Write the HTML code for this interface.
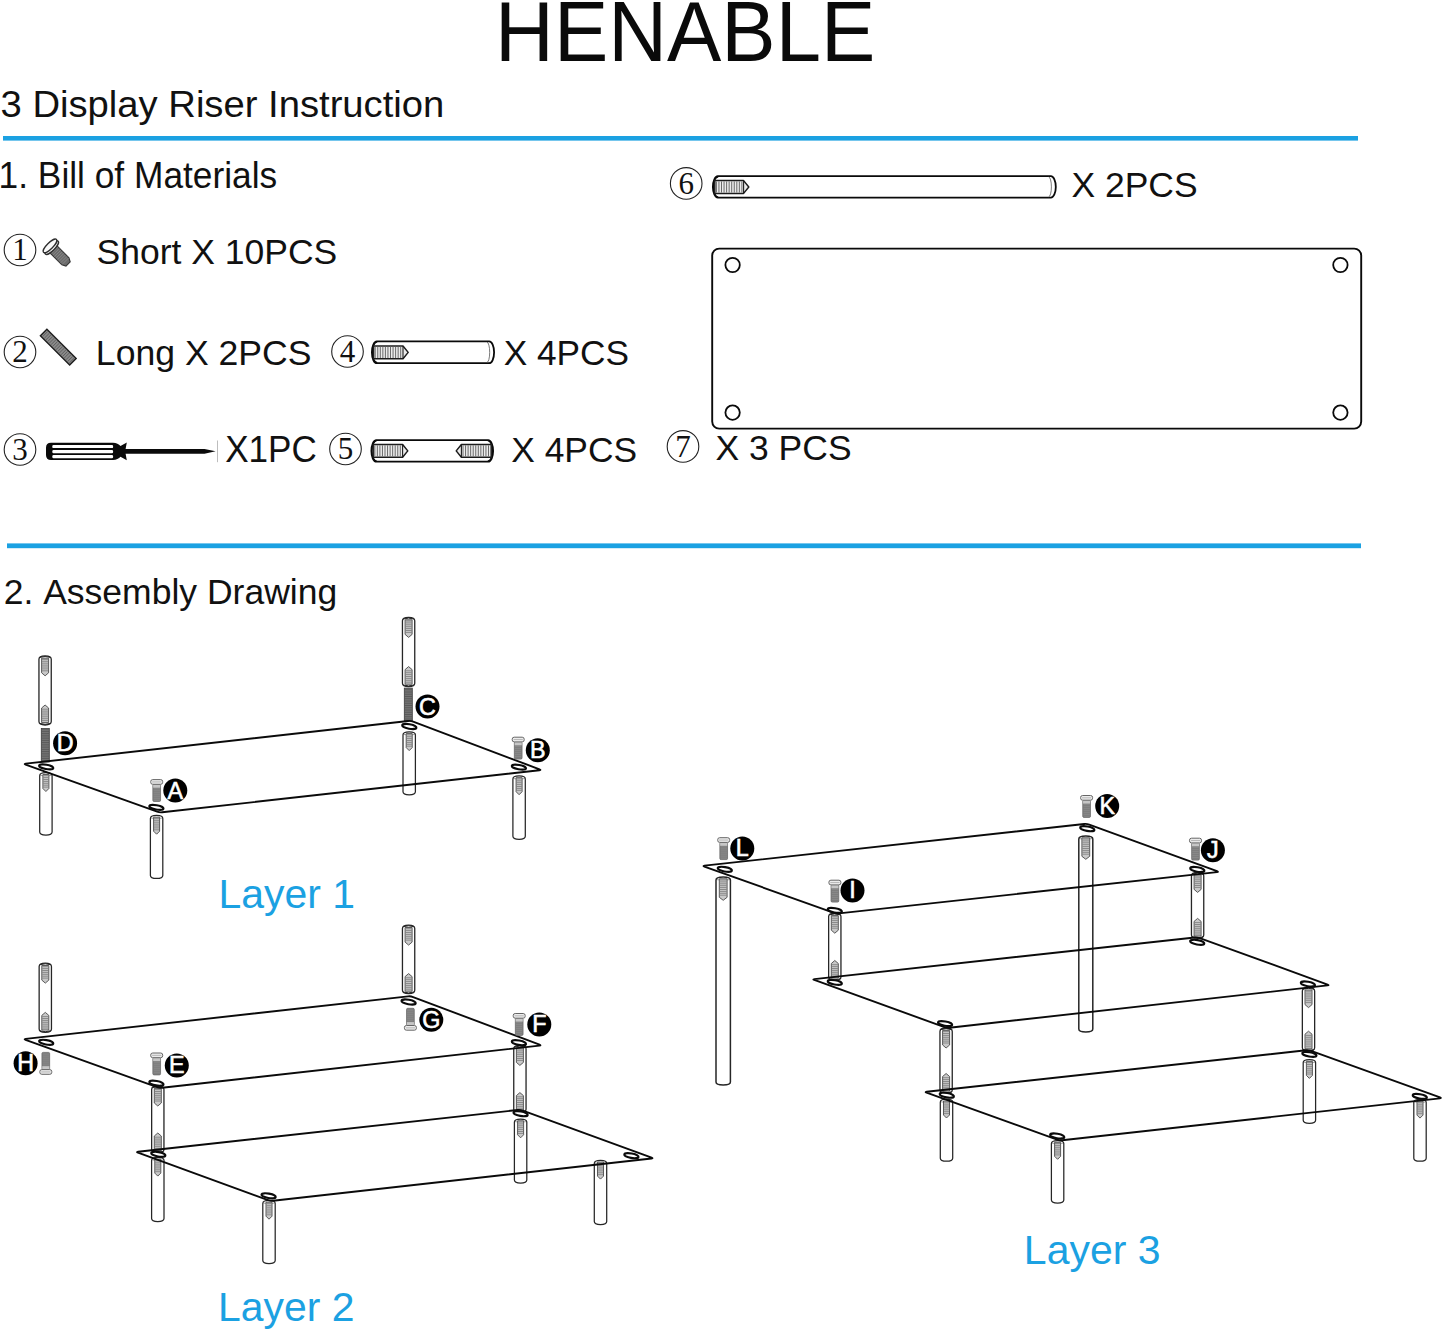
<!DOCTYPE html>
<html><head><meta charset="utf-8"><title>HENABLE 3 Display Riser Instruction</title>
<style>
html,body{margin:0;padding:0;background:#fff;}
body{width:1445px;height:1333px;overflow:hidden;font-family:"Liberation Sans",sans-serif;}
svg{display:block;font-kerning:none;}
text{font-kerning:none;}
</style></head><body>
<svg width="1445" height="1333" viewBox="0 0 1445 1333">
<rect width="1445" height="1333" fill="#fff"/>
<rect x="3" y="136" width="1355" height="4.6" fill="#1ba1e2"/>
<rect x="7" y="543.4" width="1354" height="4.8" fill="#1ba1e2"/>
<text transform="translate(495.12,60.50) scale(1,1.039)" font-family="Liberation Sans" font-weight="normal" font-size="81.44" fill="#0a0a0a">HENABLE</text>
<text transform="translate(0.54,116.50) scale(1,0.985)" font-family="Liberation Sans" font-weight="normal" font-size="38.22" fill="#111">3 Display Riser Instruction</text>
<text transform="translate(-1.39,188.00) scale(1,1.029)" font-family="Liberation Sans" font-weight="normal" font-size="35.31" fill="#111">1. Bill of Materials</text>
<text transform="translate(96.59,263.75) scale(1,0.993)" font-family="Liberation Sans" font-weight="normal" font-size="35.50" fill="#111">Short X 10PCS</text>
<text transform="translate(95.83,364.50) scale(1,0.969)" font-family="Liberation Sans" font-weight="normal" font-size="35.61" fill="#111">Long X 2PCS</text>
<text transform="translate(503.71,364.50) scale(1,1.010)" font-family="Liberation Sans" font-weight="normal" font-size="35.26" fill="#111">X 4PCS</text>
<text transform="translate(225.21,462.00) scale(1,1.040)" font-family="Liberation Sans" font-weight="normal" font-size="35.07" fill="#111">X1PC</text>
<text transform="translate(511.20,461.75) scale(1,0.996)" font-family="Liberation Sans" font-weight="normal" font-size="35.40" fill="#111">X 4PCS</text>
<text transform="translate(1071.45,196.75) scale(1,1.014)" font-family="Liberation Sans" font-weight="normal" font-size="35.47" fill="#111">X 2PCS</text>
<text transform="translate(715.45,460.00) scale(1,1.003)" font-family="Liberation Sans" font-weight="normal" font-size="35.51" fill="#111">X 3 PCS</text>
<text transform="translate(3.71,603.75) scale(1,0.992)" font-family="Liberation Sans" font-weight="normal" font-size="35.52" fill="#111">2. Assembly Drawing</text>
<text transform="translate(218.44,907.90) scale(1,1.015)" font-family="Liberation Sans" font-weight="normal" font-size="40.95" fill="#1ba1e2">Layer 1</text>
<text transform="translate(218.04,1320.80) scale(1,0.998)" font-family="Liberation Sans" font-weight="normal" font-size="40.93" fill="#1ba1e2">Layer 2</text>
<text transform="translate(1023.84,1264.40) scale(1,1.003)" font-family="Liberation Sans" font-weight="normal" font-size="41.00" fill="#1ba1e2">Layer 3</text>
<circle cx="20" cy="250" r="15.8" fill="none" stroke="#222" stroke-width="1.1"/>
<text x="20" y="260.2" text-anchor="middle" font-family="Liberation Serif" font-size="31" fill="#111">1</text>
<circle cx="20" cy="352" r="15.8" fill="none" stroke="#222" stroke-width="1.1"/>
<text x="20" y="362.2" text-anchor="middle" font-family="Liberation Serif" font-size="31" fill="#111">2</text>
<circle cx="20" cy="449.5" r="15.8" fill="none" stroke="#222" stroke-width="1.1"/>
<text x="20" y="459.7" text-anchor="middle" font-family="Liberation Serif" font-size="31" fill="#111">3</text>
<circle cx="347.5" cy="351.5" r="15.8" fill="none" stroke="#222" stroke-width="1.1"/>
<text x="347.5" y="361.7" text-anchor="middle" font-family="Liberation Serif" font-size="31" fill="#111">4</text>
<circle cx="345.5" cy="449" r="15.8" fill="none" stroke="#222" stroke-width="1.1"/>
<text x="345.5" y="459.2" text-anchor="middle" font-family="Liberation Serif" font-size="31" fill="#111">5</text>
<circle cx="686.2" cy="183.4" r="15.8" fill="none" stroke="#222" stroke-width="1.1"/>
<text x="686.2" y="193.6" text-anchor="middle" font-family="Liberation Serif" font-size="31" fill="#111">6</text>
<circle cx="683" cy="446.4" r="15.8" fill="none" stroke="#222" stroke-width="1.1"/>
<text x="683" y="456.59999999999997" text-anchor="middle" font-family="Liberation Serif" font-size="31" fill="#111">7</text>
<g transform="translate(50.2,246.1) rotate(45)">
<path d="M3,-5 H21.5 L25.3,-3 V3 L21.5,5 H3 Z" fill="#6c6c6c" stroke="#333" stroke-width="1.1"/>
<path d="M6,-4.5 V4.5 M8.2,-4.5 V4.5 M10.4,-4.5 V4.5 M12.6,-4.5 V4.5 M14.8,-4.5 V4.5 M17,-4.5 V4.5 M19.2,-4.5 V4.5 M21.4,-4.5 V4.5" stroke="#8f8f8f" stroke-width="0.7"/>
<ellipse cx="2.2" cy="0" rx="3" ry="9" fill="#fafafa" stroke="#2e2e2e" stroke-width="1.35"/>
<ellipse cx="-0.3" cy="0" rx="3" ry="9.2" fill="#fafafa" stroke="#2e2e2e" stroke-width="1.35"/>
</g>
<g transform="translate(46.9,328.6) rotate(45)">
<rect x="0.4" y="0.4" width="41.4" height="9.2" fill="#8a8a8a" stroke="#1e1e1e" stroke-width="1.4"/>
<path d="M2.6,1.4 V8.6 M5.0,1.4 V8.6 M7.3,1.4 V8.6 M9.7,1.4 V8.6 M12.0,1.4 V8.6 M14.3,1.4 V8.6 M16.7,1.4 V8.6 M19.1,1.4 V8.6 M21.4,1.4 V8.6 M23.8,1.4 V8.6 M26.1,1.4 V8.6 M28.5,1.4 V8.6 M30.8,1.4 V8.6 M33.1,1.4 V8.6 M35.5,1.4 V8.6 M37.9,1.4 V8.6 M40.2,1.4 V8.6" stroke="#555" stroke-width="0.8"/>
</g>
<path d="M51,442.8 H113 Q118,443 120.5,446 L126.8,442.6 L125.6,448.9 H204.5 L215.6,451.3 L204.5,453.7 H125.6 L126.8,460.2 L120.5,456.8 Q118,459.8 113,460 H51 Q46,460 46,455 V447.8 Q46,442.8 51,442.8 Z" fill="#0a0a0a"/>
<rect x="52.3" y="444.9" width="60.8" height="3.20" rx="1.2" fill="#fff"/>
<rect x="52.3" y="450.0" width="60.8" height="3.30" rx="1.2" fill="#fff"/>
<rect x="52.3" y="455.1" width="60.8" height="3.10" rx="1.2" fill="#fff"/>
<path d="M217.5,440.5 V462.2" stroke="#bdbdbd" stroke-width="1"/>
<path d="M376.80,341.40 H489.20 A4.90,10.90 0 0 1 489.20,363.20 H376.80 A4.90,10.90 0 0 1 376.80,341.40 Z" fill="#fff" stroke="#0a0a0a" stroke-width="1.8"/>
<path d="M377.30,342.00 A4.90,10.30 0 0 0 377.30,362.60" fill="none" stroke="#0a0a0a" stroke-width="1.2"/>
<path d="M487.00,342.20 A2.70,10.10 0 0 1 487.00,362.40" fill="none" stroke="#555" stroke-width="0.8"/>
<path d="M373.60,346.00 L403.00,346.00 L408.20,352.40 L403.00,358.80 L373.60,358.80 Z" fill="#ececec" stroke="#1c1c1c" stroke-width="1.5" stroke-linejoin="round"/>
<path d="M375.20,346.80 V358.00 M377.75,346.80 V358.00 M380.30,346.80 V358.00 M382.85,346.80 V358.00 M385.40,346.80 V358.00 M387.95,346.80 V358.00 M390.50,346.80 V358.00 M393.05,346.80 V358.00 M395.60,346.80 V358.00 M398.15,346.80 V358.00 M400.70,346.80 V358.00" stroke="#6a6a6a" stroke-width="1.0" fill="none"/>
<path d="M403.00,346.00 V358.80" stroke="#1c1c1c" stroke-width="1.1"/>
<path d="M376.30,440.10 H488.20 A4.90,10.80 0 0 1 488.20,461.70 H376.30 A4.90,10.80 0 0 1 376.30,440.10 Z" fill="#fff" stroke="#0a0a0a" stroke-width="1.8"/>
<path d="M376.80,440.70 A4.90,10.20 0 0 0 376.80,461.10" fill="none" stroke="#0a0a0a" stroke-width="1.2"/>
<path d="M487.70,440.70 A4.90,10.20 0 0 1 487.70,461.10" fill="none" stroke="#0a0a0a" stroke-width="1.2"/>
<path d="M373.20,444.50 L402.60,444.50 L407.80,450.90 L402.60,457.30 L373.20,457.30 Z" fill="#ececec" stroke="#1c1c1c" stroke-width="1.5" stroke-linejoin="round"/>
<path d="M374.80,445.30 V456.50 M377.35,445.30 V456.50 M379.90,445.30 V456.50 M382.45,445.30 V456.50 M385.00,445.30 V456.50 M387.55,445.30 V456.50 M390.10,445.30 V456.50 M392.65,445.30 V456.50 M395.20,445.30 V456.50 M397.75,445.30 V456.50 M400.30,445.30 V456.50" stroke="#6a6a6a" stroke-width="1.0" fill="none"/>
<path d="M402.60,444.50 V457.30" stroke="#1c1c1c" stroke-width="1.1"/>
<path d="M491.20,444.50 L461.40,444.50 L456.20,450.90 L461.40,457.30 L491.20,457.30 Z" fill="#ececec" stroke="#1c1c1c" stroke-width="1.5" stroke-linejoin="round"/>
<path d="M463.00,445.30 V456.50 M465.55,445.30 V456.50 M468.10,445.30 V456.50 M470.65,445.30 V456.50 M473.20,445.30 V456.50 M475.75,445.30 V456.50 M478.30,445.30 V456.50 M480.85,445.30 V456.50 M483.40,445.30 V456.50 M485.95,445.30 V456.50 M488.50,445.30 V456.50" stroke="#6a6a6a" stroke-width="1.0" fill="none"/>
<path d="M461.40,444.50 V457.30" stroke="#1c1c1c" stroke-width="1.1"/>
<path d="M717.80,176.20 H1050.90 A4.90,10.70 0 0 1 1050.90,197.60 H717.80 A4.90,10.70 0 0 1 717.80,176.20 Z" fill="#fff" stroke="#0a0a0a" stroke-width="1.8"/>
<path d="M718.30,176.80 A4.90,10.10 0 0 0 718.30,197.00" fill="none" stroke="#0a0a0a" stroke-width="1.2"/>
<path d="M1048.70,177.00 A2.70,9.90 0 0 1 1048.70,196.80" fill="none" stroke="#555" stroke-width="0.8"/>
<path d="M714.80,180.60 L743.60,180.60 L748.80,187.00 L743.60,193.40 L714.80,193.40 Z" fill="#ececec" stroke="#1c1c1c" stroke-width="1.5" stroke-linejoin="round"/>
<path d="M716.40,181.40 V192.60 M718.95,181.40 V192.60 M721.50,181.40 V192.60 M724.05,181.40 V192.60 M726.60,181.40 V192.60 M729.15,181.40 V192.60 M731.70,181.40 V192.60 M734.25,181.40 V192.60 M736.80,181.40 V192.60 M739.35,181.40 V192.60 M741.90,181.40 V192.60" stroke="#6a6a6a" stroke-width="1.0" fill="none"/>
<path d="M743.60,180.60 V193.40" stroke="#1c1c1c" stroke-width="1.1"/>
<rect x="712.2" y="248.6" width="649" height="180" rx="7" fill="none" stroke="#0a0a0a" stroke-width="1.9"/>
<circle cx="732.6" cy="265" r="7.2" fill="none" stroke="#0a0a0a" stroke-width="1.8"/>
<circle cx="1340.4" cy="265" r="7.2" fill="none" stroke="#0a0a0a" stroke-width="1.8"/>
<circle cx="732.6" cy="412.6" r="7.2" fill="none" stroke="#0a0a0a" stroke-width="1.8"/>
<circle cx="1340.4" cy="412.6" r="7.2" fill="none" stroke="#0a0a0a" stroke-width="1.8"/>
<path d="M38.95,659.20 C38.95,656.70 40.75,655.80 45.10,655.80 C49.45,655.80 51.25,656.70 51.25,659.20 V721.60 C51.25,724.10 49.45,725.00 45.10,725.00 C40.75,725.00 38.95,724.10 38.95,721.60 Z" fill="none" stroke="#262626" stroke-width="1.3"/>
<path d="M39.65,657.40 Q45.10,655.60 50.55,657.40 M39.65,723.40 Q45.10,725.20 50.55,723.40" fill="none" stroke="#262626" stroke-width="1.0"/>
<path d="M41.60,658.20 L48.60,658.20 L48.60,672.80 L45.10,675.80 L41.60,672.80 Z" fill="#c9c9c9" stroke="#4a4a4a" stroke-width="0.9"/>
<path d="M42.00,659.40 H48.20 M42.00,661.30 H48.20 M42.00,663.20 H48.20 M42.00,665.10 H48.20 M42.00,667.00 H48.20 M42.00,668.90 H48.20 M42.00,670.80 H48.20" stroke="#7a7a7a" stroke-width="0.8" fill="none"/>
<path d="M41.60,722.60 L48.60,722.60 L48.60,708.00 L45.10,705.00 L41.60,708.00 Z" fill="#c9c9c9" stroke="#4a4a4a" stroke-width="0.9"/>
<path d="M42.00,709.20 H48.20 M42.00,711.10 H48.20 M42.00,713.00 H48.20 M42.00,714.90 H48.20 M42.00,716.80 H48.20 M42.00,718.70 H48.20 M42.00,720.60 H48.20" stroke="#7a7a7a" stroke-width="0.8" fill="none"/>
<path d="M402.45,620.80 C402.45,618.30 404.25,617.40 408.60,617.40 C412.95,617.40 414.75,618.30 414.75,620.80 V683.20 C414.75,685.70 412.95,686.60 408.60,686.60 C404.25,686.60 402.45,685.70 402.45,683.20 Z" fill="none" stroke="#262626" stroke-width="1.3"/>
<path d="M403.15,619.00 Q408.60,617.20 414.05,619.00 M403.15,685.00 Q408.60,686.80 414.05,685.00" fill="none" stroke="#262626" stroke-width="1.0"/>
<path d="M405.10,619.80 L412.10,619.80 L412.10,634.40 L408.60,637.40 L405.10,634.40 Z" fill="#c9c9c9" stroke="#4a4a4a" stroke-width="0.9"/>
<path d="M405.50,621.00 H411.70 M405.50,622.90 H411.70 M405.50,624.80 H411.70 M405.50,626.70 H411.70 M405.50,628.60 H411.70 M405.50,630.50 H411.70 M405.50,632.40 H411.70" stroke="#7a7a7a" stroke-width="0.8" fill="none"/>
<path d="M405.10,684.20 L412.10,684.20 L412.10,669.60 L408.60,666.60 L405.10,669.60 Z" fill="#c9c9c9" stroke="#4a4a4a" stroke-width="0.9"/>
<path d="M405.50,670.80 H411.70 M405.50,672.70 H411.70 M405.50,674.60 H411.70 M405.50,676.50 H411.70 M405.50,678.40 H411.70 M405.50,680.30 H411.70 M405.50,682.20 H411.70" stroke="#7a7a7a" stroke-width="0.8" fill="none"/>
<rect x="41.30" y="728.60" width="8.00" height="33.40" fill="#7c7c7c" stroke="#3a3a3a" stroke-width="0.8"/>
<path d="M41.60,729.80 H49.00 M41.60,731.60 H49.00 M41.60,733.40 H49.00 M41.60,735.20 H49.00 M41.60,737.00 H49.00 M41.60,738.80 H49.00 M41.60,740.60 H49.00 M41.60,742.40 H49.00 M41.60,744.20 H49.00 M41.60,746.00 H49.00 M41.60,747.80 H49.00 M41.60,749.60 H49.00 M41.60,751.40 H49.00 M41.60,753.20 H49.00 M41.60,755.00 H49.00 M41.60,756.80 H49.00 M41.60,758.60 H49.00 M41.60,760.40 H49.00" stroke="#4a4a4a" stroke-width="0.7" fill="none"/>
<rect x="404.30" y="688.10" width="8.00" height="32.90" fill="#7c7c7c" stroke="#3a3a3a" stroke-width="0.8"/>
<path d="M404.60,689.30 H412.00 M404.60,691.10 H412.00 M404.60,692.90 H412.00 M404.60,694.70 H412.00 M404.60,696.50 H412.00 M404.60,698.30 H412.00 M404.60,700.10 H412.00 M404.60,701.90 H412.00 M404.60,703.70 H412.00 M404.60,705.50 H412.00 M404.60,707.30 H412.00 M404.60,709.10 H412.00 M404.60,710.90 H412.00 M404.60,712.70 H412.00 M404.60,714.50 H412.00 M404.60,716.30 H412.00 M404.60,718.10 H412.00 M404.60,719.90 H412.00" stroke="#4a4a4a" stroke-width="0.7" fill="none"/>
<path d="M39.70,775.70 C39.70,773.50 41.30,772.70 45.90,772.70 C50.50,772.70 52.10,773.50 52.10,775.70 V832.10 Q52.10,835.10 45.90,835.10 Q39.70,835.10 39.70,832.10 Z" fill="none" stroke="#262626" stroke-width="1.25"/>
<path d="M40.30,775.30 Q45.90,776.90 51.50,775.30" fill="none" stroke="#262626" stroke-width="0.6" opacity="0.7"/>
<path d="M42.90,774.50 L48.90,774.50 L48.90,788.50 L45.90,791.50 L42.90,788.50 Z" fill="#c9c9c9" stroke="#4a4a4a" stroke-width="0.9"/>
<path d="M43.30,775.70 H48.50 M43.30,777.60 H48.50 M43.30,779.50 H48.50 M43.30,781.40 H48.50 M43.30,783.30 H48.50 M43.30,785.20 H48.50 M43.30,787.10 H48.50" stroke="#7a7a7a" stroke-width="0.8" fill="none"/>
<path d="M150.40,818.40 C150.40,816.20 152.00,815.40 156.60,815.40 C161.20,815.40 162.80,816.20 162.80,818.40 V875.40 Q162.80,878.40 156.60,878.40 Q150.40,878.40 150.40,875.40 Z" fill="none" stroke="#262626" stroke-width="1.25"/>
<path d="M151.00,818.00 Q156.60,819.60 162.20,818.00" fill="none" stroke="#262626" stroke-width="0.6" opacity="0.7"/>
<path d="M153.60,817.20 L159.60,817.20 L159.60,831.20 L156.60,834.20 L153.60,831.20 Z" fill="#c9c9c9" stroke="#4a4a4a" stroke-width="0.9"/>
<path d="M154.00,818.40 H159.20 M154.00,820.30 H159.20 M154.00,822.20 H159.20 M154.00,824.10 H159.20 M154.00,826.00 H159.20 M154.00,827.90 H159.20 M154.00,829.80 H159.20" stroke="#7a7a7a" stroke-width="0.8" fill="none"/>
<path d="M403.00,734.80 C403.00,732.60 404.60,731.80 409.20,731.80 C413.80,731.80 415.40,732.60 415.40,734.80 V791.80 Q415.40,794.80 409.20,794.80 Q403.00,794.80 403.00,791.80 Z" fill="none" stroke="#262626" stroke-width="1.25"/>
<path d="M403.60,734.40 Q409.20,736.00 414.80,734.40" fill="none" stroke="#262626" stroke-width="0.6" opacity="0.7"/>
<path d="M406.20,733.60 L412.20,733.60 L412.20,747.60 L409.20,750.60 L406.20,747.60 Z" fill="#c9c9c9" stroke="#4a4a4a" stroke-width="0.9"/>
<path d="M406.60,734.80 H411.80 M406.60,736.70 H411.80 M406.60,738.60 H411.80 M406.60,740.50 H411.80 M406.60,742.40 H411.80 M406.60,744.30 H411.80 M406.60,746.20 H411.80" stroke="#7a7a7a" stroke-width="0.8" fill="none"/>
<path d="M512.90,778.90 C512.90,776.70 514.50,775.90 519.10,775.90 C523.70,775.90 525.30,776.70 525.30,778.90 V836.30 Q525.30,839.30 519.10,839.30 Q512.90,839.30 512.90,836.30 Z" fill="none" stroke="#262626" stroke-width="1.25"/>
<path d="M513.50,778.50 Q519.10,780.10 524.70,778.50" fill="none" stroke="#262626" stroke-width="0.6" opacity="0.7"/>
<path d="M516.10,777.70 L522.10,777.70 L522.10,791.70 L519.10,794.70 L516.10,791.70 Z" fill="#c9c9c9" stroke="#4a4a4a" stroke-width="0.9"/>
<path d="M516.50,778.90 H521.70 M516.50,780.80 H521.70 M516.50,782.70 H521.70 M516.50,784.60 H521.70 M516.50,786.50 H521.70 M516.50,788.40 H521.70 M516.50,790.30 H521.70" stroke="#7a7a7a" stroke-width="0.8" fill="none"/>
<path d="M25.58,764.57 Q23.70,763.90 25.69,763.68 L408.12,720.99 Q410.70,720.70 413.13,721.62 L539.53,769.29 Q541.40,770.00 539.41,770.22 L162.18,812.31 Q159.60,812.60 157.15,811.72 Z" fill="none" stroke="#0a0a0a" stroke-width="1.9" stroke-linejoin="round"/>
<ellipse cx="46.2" cy="766.9" rx="7.2" ry="2.2" transform="rotate(10 46.2 766.9)" fill="#fff" stroke="#0a0a0a" stroke-width="2.1"/>
<ellipse cx="409.3" cy="726.5" rx="7.2" ry="2.2" transform="rotate(10 409.3 726.5)" fill="#fff" stroke="#0a0a0a" stroke-width="2.1"/>
<ellipse cx="518.9" cy="767.1" rx="7.2" ry="2.2" transform="rotate(10 518.9 767.1)" fill="#fff" stroke="#0a0a0a" stroke-width="2.1"/>
<ellipse cx="156.4" cy="807.4" rx="7.2" ry="2.2" transform="rotate(10 156.4 807.4)" fill="#fff" stroke="#0a0a0a" stroke-width="2.1"/>
<rect x="152.85" y="784.30" width="7.70" height="17.20" rx="1.2" fill="#8b8b8b" stroke="#5a5a5a" stroke-width="0.7"/>
<path d="M153.35,785.80 H160.05 M153.35,787.80 H160.05 M153.35,789.80 H160.05 M153.35,791.80 H160.05 M153.35,793.80 H160.05 M153.35,795.80 H160.05 M153.35,797.80 H160.05 M153.35,799.80 H160.05" stroke="#767676" stroke-width="0.7" fill="none"/>
<rect x="153.15" y="784.30" width="7.10" height="3.4" fill="#c6c6c6"/>
<rect x="150.70" y="779.60" width="12.00" height="4.70" rx="2" fill="#ececec" stroke="#666" stroke-width="1.0"/>
<path d="M152.10,781.95 H161.30" stroke="#a8a8a8" stroke-width="0.8"/>
<rect x="514.35" y="741.90" width="7.70" height="17.20" rx="1.2" fill="#8b8b8b" stroke="#5a5a5a" stroke-width="0.7"/>
<path d="M514.85,743.40 H521.55 M514.85,745.40 H521.55 M514.85,747.40 H521.55 M514.85,749.40 H521.55 M514.85,751.40 H521.55 M514.85,753.40 H521.55 M514.85,755.40 H521.55 M514.85,757.40 H521.55" stroke="#767676" stroke-width="0.7" fill="none"/>
<rect x="514.65" y="741.90" width="7.10" height="3.4" fill="#c6c6c6"/>
<rect x="512.20" y="737.20" width="12.00" height="4.70" rx="2" fill="#ececec" stroke="#666" stroke-width="1.0"/>
<path d="M513.60,739.55 H522.80" stroke="#a8a8a8" stroke-width="0.8"/>
<circle cx="65.1" cy="743.3" r="12" fill="#000"/>
<text x="65.1" y="751.3" text-anchor="middle" font-family="Liberation Sans" font-size="23.3" fill="#fff" stroke="#fff" stroke-width="0.6">D</text>
<circle cx="175.3" cy="790.6" r="12" fill="#000"/>
<text x="175.3" y="798.6" text-anchor="middle" font-family="Liberation Sans" font-size="23.3" fill="#fff" stroke="#fff" stroke-width="0.6">A</text>
<circle cx="427.5" cy="706.6" r="12" fill="#000"/>
<text x="427.5" y="714.6" text-anchor="middle" font-family="Liberation Sans" font-size="23.3" fill="#fff" stroke="#fff" stroke-width="0.6">C</text>
<circle cx="537.8" cy="750.3" r="12" fill="#000"/>
<text x="537.8" y="758.3" text-anchor="middle" font-family="Liberation Sans" font-size="23.3" fill="#fff" stroke="#fff" stroke-width="0.6">B</text>
<path d="M39.15,966.50 C39.15,964.00 40.95,963.10 45.30,963.10 C49.65,963.10 51.45,964.00 51.45,966.50 V1029.00 C51.45,1031.50 49.65,1032.40 45.30,1032.40 C40.95,1032.40 39.15,1031.50 39.15,1029.00 Z" fill="none" stroke="#262626" stroke-width="1.3"/>
<path d="M39.85,964.70 Q45.30,962.90 50.75,964.70 M39.85,1030.80 Q45.30,1032.60 50.75,1030.80" fill="none" stroke="#262626" stroke-width="1.0"/>
<path d="M41.80,965.50 L48.80,965.50 L48.80,980.10 L45.30,983.10 L41.80,980.10 Z" fill="#c9c9c9" stroke="#4a4a4a" stroke-width="0.9"/>
<path d="M42.20,966.70 H48.40 M42.20,968.60 H48.40 M42.20,970.50 H48.40 M42.20,972.40 H48.40 M42.20,974.30 H48.40 M42.20,976.20 H48.40 M42.20,978.10 H48.40" stroke="#7a7a7a" stroke-width="0.8" fill="none"/>
<path d="M41.80,1030.00 L48.80,1030.00 L48.80,1015.40 L45.30,1012.40 L41.80,1015.40 Z" fill="#c9c9c9" stroke="#4a4a4a" stroke-width="0.9"/>
<path d="M42.20,1016.60 H48.40 M42.20,1018.50 H48.40 M42.20,1020.40 H48.40 M42.20,1022.30 H48.40 M42.20,1024.20 H48.40 M42.20,1026.10 H48.40 M42.20,1028.00 H48.40" stroke="#7a7a7a" stroke-width="0.8" fill="none"/>
<path d="M402.45,928.50 C402.45,926.00 404.25,925.10 408.60,925.10 C412.95,925.10 414.75,926.00 414.75,928.50 V990.20 C414.75,992.70 412.95,993.60 408.60,993.60 C404.25,993.60 402.45,992.70 402.45,990.20 Z" fill="none" stroke="#262626" stroke-width="1.3"/>
<path d="M403.15,926.70 Q408.60,924.90 414.05,926.70 M403.15,992.00 Q408.60,993.80 414.05,992.00" fill="none" stroke="#262626" stroke-width="1.0"/>
<path d="M405.10,927.50 L412.10,927.50 L412.10,942.10 L408.60,945.10 L405.10,942.10 Z" fill="#c9c9c9" stroke="#4a4a4a" stroke-width="0.9"/>
<path d="M405.50,928.70 H411.70 M405.50,930.60 H411.70 M405.50,932.50 H411.70 M405.50,934.40 H411.70 M405.50,936.30 H411.70 M405.50,938.20 H411.70 M405.50,940.10 H411.70" stroke="#7a7a7a" stroke-width="0.8" fill="none"/>
<path d="M405.10,991.20 L412.10,991.20 L412.10,976.60 L408.60,973.60 L405.10,976.60 Z" fill="#c9c9c9" stroke="#4a4a4a" stroke-width="0.9"/>
<path d="M405.50,977.80 H411.70 M405.50,979.70 H411.70 M405.50,981.60 H411.70 M405.50,983.50 H411.70 M405.50,985.40 H411.70 M405.50,987.30 H411.70 M405.50,989.20 H411.70" stroke="#7a7a7a" stroke-width="0.8" fill="none"/>
<path d="M151.65,1089.40 C151.65,1086.90 153.45,1086.00 157.80,1086.00 C162.15,1086.00 163.95,1086.90 163.95,1089.40 V1149.60 C163.95,1152.10 162.15,1153.00 157.80,1153.00 C153.45,1153.00 151.65,1152.10 151.65,1149.60 Z" fill="none" stroke="#262626" stroke-width="1.3"/>
<path d="M152.35,1087.60 Q157.80,1085.80 163.25,1087.60 M152.35,1151.40 Q157.80,1153.20 163.25,1151.40" fill="none" stroke="#262626" stroke-width="1.0"/>
<path d="M154.30,1088.40 L161.30,1088.40 L161.30,1103.00 L157.80,1106.00 L154.30,1103.00 Z" fill="#c9c9c9" stroke="#4a4a4a" stroke-width="0.9"/>
<path d="M154.70,1089.60 H160.90 M154.70,1091.50 H160.90 M154.70,1093.40 H160.90 M154.70,1095.30 H160.90 M154.70,1097.20 H160.90 M154.70,1099.10 H160.90 M154.70,1101.00 H160.90" stroke="#7a7a7a" stroke-width="0.8" fill="none"/>
<path d="M154.30,1150.60 L161.30,1150.60 L161.30,1136.00 L157.80,1133.00 L154.30,1136.00 Z" fill="#c9c9c9" stroke="#4a4a4a" stroke-width="0.9"/>
<path d="M154.70,1137.20 H160.90 M154.70,1139.10 H160.90 M154.70,1141.00 H160.90 M154.70,1142.90 H160.90 M154.70,1144.80 H160.90 M154.70,1146.70 H160.90 M154.70,1148.60 H160.90" stroke="#7a7a7a" stroke-width="0.8" fill="none"/>
<path d="M513.75,1048.80 C513.75,1046.30 515.55,1045.40 519.90,1045.40 C524.25,1045.40 526.05,1046.30 526.05,1048.80 V1109.20 C526.05,1111.70 524.25,1112.60 519.90,1112.60 C515.55,1112.60 513.75,1111.70 513.75,1109.20 Z" fill="none" stroke="#262626" stroke-width="1.3"/>
<path d="M514.45,1047.00 Q519.90,1045.20 525.35,1047.00 M514.45,1111.00 Q519.90,1112.80 525.35,1111.00" fill="none" stroke="#262626" stroke-width="1.0"/>
<path d="M516.40,1047.80 L523.40,1047.80 L523.40,1062.40 L519.90,1065.40 L516.40,1062.40 Z" fill="#c9c9c9" stroke="#4a4a4a" stroke-width="0.9"/>
<path d="M516.80,1049.00 H523.00 M516.80,1050.90 H523.00 M516.80,1052.80 H523.00 M516.80,1054.70 H523.00 M516.80,1056.60 H523.00 M516.80,1058.50 H523.00 M516.80,1060.40 H523.00" stroke="#7a7a7a" stroke-width="0.8" fill="none"/>
<path d="M516.40,1110.20 L523.40,1110.20 L523.40,1095.60 L519.90,1092.60 L516.40,1095.60 Z" fill="#c9c9c9" stroke="#4a4a4a" stroke-width="0.9"/>
<path d="M516.80,1096.80 H523.00 M516.80,1098.70 H523.00 M516.80,1100.60 H523.00 M516.80,1102.50 H523.00 M516.80,1104.40 H523.00 M516.80,1106.30 H523.00 M516.80,1108.20 H523.00" stroke="#7a7a7a" stroke-width="0.8" fill="none"/>
<path d="M151.60,1160.30 C151.60,1158.10 153.20,1157.30 157.80,1157.30 C162.40,1157.30 164.00,1158.10 164.00,1160.30 V1218.50 Q164.00,1221.50 157.80,1221.50 Q151.60,1221.50 151.60,1218.50 Z" fill="none" stroke="#262626" stroke-width="1.25"/>
<path d="M152.20,1159.90 Q157.80,1161.50 163.40,1159.90" fill="none" stroke="#262626" stroke-width="0.6" opacity="0.7"/>
<path d="M154.80,1159.10 L160.80,1159.10 L160.80,1173.10 L157.80,1176.10 L154.80,1173.10 Z" fill="#c9c9c9" stroke="#4a4a4a" stroke-width="0.9"/>
<path d="M155.20,1160.30 H160.40 M155.20,1162.20 H160.40 M155.20,1164.10 H160.40 M155.20,1166.00 H160.40 M155.20,1167.90 H160.40 M155.20,1169.80 H160.40 M155.20,1171.70 H160.40" stroke="#7a7a7a" stroke-width="0.8" fill="none"/>
<path d="M514.40,1122.00 C514.40,1119.80 516.00,1119.00 520.60,1119.00 C525.20,1119.00 526.80,1119.80 526.80,1122.00 V1180.00 Q526.80,1183.00 520.60,1183.00 Q514.40,1183.00 514.40,1180.00 Z" fill="none" stroke="#262626" stroke-width="1.25"/>
<path d="M515.00,1121.60 Q520.60,1123.20 526.20,1121.60" fill="none" stroke="#262626" stroke-width="0.6" opacity="0.7"/>
<path d="M517.60,1120.80 L523.60,1120.80 L523.60,1134.80 L520.60,1137.80 L517.60,1134.80 Z" fill="#c9c9c9" stroke="#4a4a4a" stroke-width="0.9"/>
<path d="M518.00,1122.00 H523.20 M518.00,1123.90 H523.20 M518.00,1125.80 H523.20 M518.00,1127.70 H523.20 M518.00,1129.60 H523.20 M518.00,1131.50 H523.20 M518.00,1133.40 H523.20" stroke="#7a7a7a" stroke-width="0.8" fill="none"/>
<path d="M594.30,1163.30 C594.30,1161.10 595.90,1160.30 600.50,1160.30 C605.10,1160.30 606.70,1161.10 606.70,1163.30 V1221.50 Q606.70,1224.50 600.50,1224.50 Q594.30,1224.50 594.30,1221.50 Z" fill="none" stroke="#262626" stroke-width="1.25"/>
<path d="M594.90,1162.90 Q600.50,1164.50 606.10,1162.90" fill="none" stroke="#262626" stroke-width="0.6" opacity="0.7"/>
<path d="M597.50,1162.10 L603.50,1162.10 L603.50,1176.10 L600.50,1179.10 L597.50,1176.10 Z" fill="#c9c9c9" stroke="#4a4a4a" stroke-width="0.9"/>
<path d="M597.90,1163.30 H603.10 M597.90,1165.20 H603.10 M597.90,1167.10 H603.10 M597.90,1169.00 H603.10 M597.90,1170.90 H603.10 M597.90,1172.80 H603.10 M597.90,1174.70 H603.10" stroke="#7a7a7a" stroke-width="0.8" fill="none"/>
<path d="M262.80,1203.40 C262.80,1201.20 264.40,1200.40 269.00,1200.40 C273.60,1200.40 275.20,1201.20 275.20,1203.40 V1260.60 Q275.20,1263.60 269.00,1263.60 Q262.80,1263.60 262.80,1260.60 Z" fill="none" stroke="#262626" stroke-width="1.25"/>
<path d="M263.40,1203.00 Q269.00,1204.60 274.60,1203.00" fill="none" stroke="#262626" stroke-width="0.6" opacity="0.7"/>
<path d="M266.00,1202.20 L272.00,1202.20 L272.00,1216.20 L269.00,1219.20 L266.00,1216.20 Z" fill="#c9c9c9" stroke="#4a4a4a" stroke-width="0.9"/>
<path d="M266.40,1203.40 H271.60 M266.40,1205.30 H271.60 M266.40,1207.20 H271.60 M266.40,1209.10 H271.60 M266.40,1211.00 H271.60 M266.40,1212.90 H271.60 M266.40,1214.80 H271.60" stroke="#7a7a7a" stroke-width="0.8" fill="none"/>
<path d="M25.58,1039.78 Q23.70,1039.10 25.69,1038.88 L408.12,996.39 Q410.70,996.10 413.13,997.02 L539.53,1044.69 Q541.40,1045.40 539.41,1045.62 L162.18,1087.71 Q159.60,1088.00 157.15,1087.12 Z" fill="none" stroke="#0a0a0a" stroke-width="1.9" stroke-linejoin="round"/>
<path d="M137.98,1152.69 Q136.10,1152.00 138.09,1151.78 L517.82,1109.98 Q520.40,1109.70 522.84,1110.59 L651.62,1157.61 Q653.50,1158.30 651.51,1158.52 L273.08,1200.71 Q270.50,1201.00 268.06,1200.11 Z" fill="none" stroke="#0a0a0a" stroke-width="1.9" stroke-linejoin="round"/>
<ellipse cx="46.2" cy="1042.3" rx="7.2" ry="2.2" transform="rotate(10 46.2 1042.3)" fill="#fff" stroke="#0a0a0a" stroke-width="2.1"/>
<ellipse cx="408.6" cy="1002.0" rx="7.2" ry="2.2" transform="rotate(10 408.6 1002.0)" fill="#fff" stroke="#0a0a0a" stroke-width="2.1"/>
<ellipse cx="518.9" cy="1042.7" rx="7.2" ry="2.2" transform="rotate(10 518.9 1042.7)" fill="#fff" stroke="#0a0a0a" stroke-width="2.1"/>
<ellipse cx="156.4" cy="1083.2" rx="7.2" ry="2.2" transform="rotate(10 156.4 1083.2)" fill="#fff" stroke="#0a0a0a" stroke-width="2.1"/>
<ellipse cx="158.3" cy="1154.3" rx="7.2" ry="2.2" transform="rotate(10 158.3 1154.3)" fill="#fff" stroke="#0a0a0a" stroke-width="2.1"/>
<ellipse cx="520.6" cy="1113.7" rx="7.2" ry="2.2" transform="rotate(10 520.6 1113.7)" fill="#fff" stroke="#0a0a0a" stroke-width="2.1"/>
<ellipse cx="631.4" cy="1155.7" rx="7.2" ry="2.2" transform="rotate(10 631.4 1155.7)" fill="#fff" stroke="#0a0a0a" stroke-width="2.1"/>
<ellipse cx="268.6" cy="1195.8" rx="7.2" ry="2.2" transform="rotate(10 268.6 1195.8)" fill="#fff" stroke="#0a0a0a" stroke-width="2.1"/>
<rect x="152.85" y="1057.70" width="7.70" height="17.20" rx="1.2" fill="#8b8b8b" stroke="#5a5a5a" stroke-width="0.7"/>
<path d="M153.35,1059.20 H160.05 M153.35,1061.20 H160.05 M153.35,1063.20 H160.05 M153.35,1065.20 H160.05 M153.35,1067.20 H160.05 M153.35,1069.20 H160.05 M153.35,1071.20 H160.05 M153.35,1073.20 H160.05" stroke="#767676" stroke-width="0.7" fill="none"/>
<rect x="153.15" y="1057.70" width="7.10" height="3.4" fill="#c6c6c6"/>
<rect x="150.70" y="1053.00" width="12.00" height="4.70" rx="2" fill="#ececec" stroke="#666" stroke-width="1.0"/>
<path d="M152.10,1055.35 H161.30" stroke="#a8a8a8" stroke-width="0.8"/>
<rect x="515.35" y="1018.20" width="7.70" height="17.20" rx="1.2" fill="#8b8b8b" stroke="#5a5a5a" stroke-width="0.7"/>
<path d="M515.85,1019.70 H522.55 M515.85,1021.70 H522.55 M515.85,1023.70 H522.55 M515.85,1025.70 H522.55 M515.85,1027.70 H522.55 M515.85,1029.70 H522.55 M515.85,1031.70 H522.55 M515.85,1033.70 H522.55" stroke="#767676" stroke-width="0.7" fill="none"/>
<rect x="515.65" y="1018.20" width="7.10" height="3.4" fill="#c6c6c6"/>
<rect x="513.20" y="1013.50" width="12.00" height="4.70" rx="2" fill="#ececec" stroke="#666" stroke-width="1.0"/>
<path d="M514.60,1015.85 H523.80" stroke="#a8a8a8" stroke-width="0.8"/>
<rect x="406.55" y="1008.30" width="7.70" height="17.20" rx="1.2" fill="#8b8b8b" stroke="#5a5a5a" stroke-width="0.7"/>
<path d="M407.05,1009.80 H413.75 M407.05,1011.80 H413.75 M407.05,1013.80 H413.75 M407.05,1015.80 H413.75 M407.05,1017.80 H413.75 M407.05,1019.80 H413.75 M407.05,1021.80 H413.75 M407.05,1023.80 H413.75" stroke="#767676" stroke-width="0.7" fill="none"/>
<rect x="406.85" y="1022.10" width="7.10" height="3.4" fill="#c6c6c6"/>
<rect x="404.40" y="1025.50" width="12.00" height="4.70" rx="2" fill="#ececec" stroke="#666" stroke-width="1.0"/>
<path d="M405.80,1027.85 H415.00" stroke="#a8a8a8" stroke-width="0.8"/>
<rect x="41.95" y="1052.40" width="7.70" height="17.20" rx="1.2" fill="#8b8b8b" stroke="#5a5a5a" stroke-width="0.7"/>
<path d="M42.45,1053.90 H49.15 M42.45,1055.90 H49.15 M42.45,1057.90 H49.15 M42.45,1059.90 H49.15 M42.45,1061.90 H49.15 M42.45,1063.90 H49.15 M42.45,1065.90 H49.15 M42.45,1067.90 H49.15" stroke="#767676" stroke-width="0.7" fill="none"/>
<rect x="42.25" y="1066.20" width="7.10" height="3.4" fill="#c6c6c6"/>
<rect x="39.80" y="1069.60" width="12.00" height="4.70" rx="2" fill="#ececec" stroke="#666" stroke-width="1.0"/>
<path d="M41.20,1071.95 H50.40" stroke="#a8a8a8" stroke-width="0.8"/>
<circle cx="25.6" cy="1063.3" r="12" fill="#000"/>
<text x="25.6" y="1071.3" text-anchor="middle" font-family="Liberation Sans" font-size="23.3" fill="#fff" stroke="#fff" stroke-width="0.6">H</text>
<circle cx="176.8" cy="1065.4" r="12" fill="#000"/>
<text x="176.8" y="1073.4" text-anchor="middle" font-family="Liberation Sans" font-size="23.3" fill="#fff" stroke="#fff" stroke-width="0.6">E</text>
<circle cx="431.3" cy="1019.8" r="12" fill="#000"/>
<text x="431.3" y="1027.8" text-anchor="middle" font-family="Liberation Sans" font-size="23.3" fill="#fff" stroke="#fff" stroke-width="0.6">G</text>
<circle cx="539.3" cy="1024.4" r="12" fill="#000"/>
<text x="539.3" y="1032.4" text-anchor="middle" font-family="Liberation Sans" font-size="23.3" fill="#fff" stroke="#fff" stroke-width="0.6">F</text>
<path d="M716.00,880.00 C716.00,877.80 717.60,877.00 723.20,877.00 C728.80,877.00 730.40,877.80 730.40,880.00 V1082.00 Q730.40,1085.00 723.20,1085.00 Q716.00,1085.00 716.00,1082.00 Z" fill="none" stroke="#262626" stroke-width="1.5"/>
<path d="M716.60,879.60 Q723.20,881.20 729.80,879.60" fill="none" stroke="#262626" stroke-width="0.6" opacity="0.7"/>
<path d="M719.30,878.80 L727.10,878.80 L727.10,897.30 L723.20,900.30 L719.30,897.30 Z" fill="#c9c9c9" stroke="#4a4a4a" stroke-width="0.9"/>
<path d="M719.70,880.00 H726.70 M719.70,881.90 H726.70 M719.70,883.80 H726.70 M719.70,885.70 H726.70 M719.70,887.60 H726.70 M719.70,889.50 H726.70 M719.70,891.40 H726.70 M719.70,893.30 H726.70 M719.70,895.20 H726.70" stroke="#7a7a7a" stroke-width="0.8" fill="none"/>
<path d="M1078.80,839.00 C1078.80,836.80 1080.40,836.00 1085.80,836.00 C1091.20,836.00 1092.80,836.80 1092.80,839.00 V1029.00 Q1092.80,1032.00 1085.80,1032.00 Q1078.80,1032.00 1078.80,1029.00 Z" fill="none" stroke="#262626" stroke-width="1.5"/>
<path d="M1079.40,838.60 Q1085.80,840.20 1092.20,838.60" fill="none" stroke="#262626" stroke-width="0.6" opacity="0.7"/>
<path d="M1081.90,837.80 L1089.70,837.80 L1089.70,856.30 L1085.80,859.30 L1081.90,856.30 Z" fill="#c9c9c9" stroke="#4a4a4a" stroke-width="0.9"/>
<path d="M1082.30,839.00 H1089.30 M1082.30,840.90 H1089.30 M1082.30,842.80 H1089.30 M1082.30,844.70 H1089.30 M1082.30,846.60 H1089.30 M1082.30,848.50 H1089.30 M1082.30,850.40 H1089.30 M1082.30,852.30 H1089.30 M1082.30,854.20 H1089.30" stroke="#7a7a7a" stroke-width="0.8" fill="none"/>
<path d="M828.65,916.60 C828.65,914.10 830.45,913.20 834.80,913.20 C839.15,913.20 840.95,914.10 840.95,916.60 V977.10 C840.95,979.60 839.15,980.50 834.80,980.50 C830.45,980.50 828.65,979.60 828.65,977.10 Z" fill="none" stroke="#262626" stroke-width="1.3"/>
<path d="M829.35,914.80 Q834.80,913.00 840.25,914.80 M829.35,978.90 Q834.80,980.70 840.25,978.90" fill="none" stroke="#262626" stroke-width="1.0"/>
<path d="M831.30,915.60 L838.30,915.60 L838.30,930.20 L834.80,933.20 L831.30,930.20 Z" fill="#c9c9c9" stroke="#4a4a4a" stroke-width="0.9"/>
<path d="M831.70,916.80 H837.90 M831.70,918.70 H837.90 M831.70,920.60 H837.90 M831.70,922.50 H837.90 M831.70,924.40 H837.90 M831.70,926.30 H837.90 M831.70,928.20 H837.90" stroke="#7a7a7a" stroke-width="0.8" fill="none"/>
<path d="M831.30,978.10 L838.30,978.10 L838.30,963.50 L834.80,960.50 L831.30,963.50 Z" fill="#c9c9c9" stroke="#4a4a4a" stroke-width="0.9"/>
<path d="M831.70,964.70 H837.90 M831.70,966.60 H837.90 M831.70,968.50 H837.90 M831.70,970.40 H837.90 M831.70,972.30 H837.90 M831.70,974.20 H837.90 M831.70,976.10 H837.90" stroke="#7a7a7a" stroke-width="0.8" fill="none"/>
<path d="M1191.45,875.80 C1191.45,873.30 1193.25,872.40 1197.60,872.40 C1201.95,872.40 1203.75,873.30 1203.75,875.80 V935.00 C1203.75,937.50 1201.95,938.40 1197.60,938.40 C1193.25,938.40 1191.45,937.50 1191.45,935.00 Z" fill="none" stroke="#262626" stroke-width="1.3"/>
<path d="M1192.15,874.00 Q1197.60,872.20 1203.05,874.00 M1192.15,936.80 Q1197.60,938.60 1203.05,936.80" fill="none" stroke="#262626" stroke-width="1.0"/>
<path d="M1194.10,874.80 L1201.10,874.80 L1201.10,889.40 L1197.60,892.40 L1194.10,889.40 Z" fill="#c9c9c9" stroke="#4a4a4a" stroke-width="0.9"/>
<path d="M1194.50,876.00 H1200.70 M1194.50,877.90 H1200.70 M1194.50,879.80 H1200.70 M1194.50,881.70 H1200.70 M1194.50,883.60 H1200.70 M1194.50,885.50 H1200.70 M1194.50,887.40 H1200.70" stroke="#7a7a7a" stroke-width="0.8" fill="none"/>
<path d="M1194.10,936.00 L1201.10,936.00 L1201.10,921.40 L1197.60,918.40 L1194.10,921.40 Z" fill="#c9c9c9" stroke="#4a4a4a" stroke-width="0.9"/>
<path d="M1194.50,922.60 H1200.70 M1194.50,924.50 H1200.70 M1194.50,926.40 H1200.70 M1194.50,928.30 H1200.70 M1194.50,930.20 H1200.70 M1194.50,932.10 H1200.70 M1194.50,934.00 H1200.70" stroke="#7a7a7a" stroke-width="0.8" fill="none"/>
<path d="M939.95,1031.40 C939.95,1028.90 941.75,1028.00 946.10,1028.00 C950.45,1028.00 952.25,1028.90 952.25,1031.40 V1090.10 C952.25,1092.60 950.45,1093.50 946.10,1093.50 C941.75,1093.50 939.95,1092.60 939.95,1090.10 Z" fill="none" stroke="#262626" stroke-width="1.3"/>
<path d="M940.65,1029.60 Q946.10,1027.80 951.55,1029.60 M940.65,1091.90 Q946.10,1093.70 951.55,1091.90" fill="none" stroke="#262626" stroke-width="1.0"/>
<path d="M942.60,1030.40 L949.60,1030.40 L949.60,1045.00 L946.10,1048.00 L942.60,1045.00 Z" fill="#c9c9c9" stroke="#4a4a4a" stroke-width="0.9"/>
<path d="M943.00,1031.60 H949.20 M943.00,1033.50 H949.20 M943.00,1035.40 H949.20 M943.00,1037.30 H949.20 M943.00,1039.20 H949.20 M943.00,1041.10 H949.20 M943.00,1043.00 H949.20" stroke="#7a7a7a" stroke-width="0.8" fill="none"/>
<path d="M942.60,1091.10 L949.60,1091.10 L949.60,1076.50 L946.10,1073.50 L942.60,1076.50 Z" fill="#c9c9c9" stroke="#4a4a4a" stroke-width="0.9"/>
<path d="M943.00,1077.70 H949.20 M943.00,1079.60 H949.20 M943.00,1081.50 H949.20 M943.00,1083.40 H949.20 M943.00,1085.30 H949.20 M943.00,1087.20 H949.20 M943.00,1089.10 H949.20" stroke="#7a7a7a" stroke-width="0.8" fill="none"/>
<path d="M1302.35,991.00 C1302.35,988.50 1304.15,987.60 1308.50,987.60 C1312.85,987.60 1314.65,988.50 1314.65,991.00 V1047.80 C1314.65,1050.30 1312.85,1051.20 1308.50,1051.20 C1304.15,1051.20 1302.35,1050.30 1302.35,1047.80 Z" fill="none" stroke="#262626" stroke-width="1.3"/>
<path d="M1303.05,989.20 Q1308.50,987.40 1313.95,989.20 M1303.05,1049.60 Q1308.50,1051.40 1313.95,1049.60" fill="none" stroke="#262626" stroke-width="1.0"/>
<path d="M1305.00,990.00 L1312.00,990.00 L1312.00,1004.60 L1308.50,1007.60 L1305.00,1004.60 Z" fill="#c9c9c9" stroke="#4a4a4a" stroke-width="0.9"/>
<path d="M1305.40,991.20 H1311.60 M1305.40,993.10 H1311.60 M1305.40,995.00 H1311.60 M1305.40,996.90 H1311.60 M1305.40,998.80 H1311.60 M1305.40,1000.70 H1311.60 M1305.40,1002.60 H1311.60" stroke="#7a7a7a" stroke-width="0.8" fill="none"/>
<path d="M1305.00,1048.80 L1312.00,1048.80 L1312.00,1034.20 L1308.50,1031.20 L1305.00,1034.20 Z" fill="#c9c9c9" stroke="#4a4a4a" stroke-width="0.9"/>
<path d="M1305.40,1035.40 H1311.60 M1305.40,1037.30 H1311.60 M1305.40,1039.20 H1311.60 M1305.40,1041.10 H1311.60 M1305.40,1043.00 H1311.60 M1305.40,1044.90 H1311.60 M1305.40,1046.80 H1311.60" stroke="#7a7a7a" stroke-width="0.8" fill="none"/>
<path d="M940.30,1102.20 C940.30,1100.00 941.90,1099.20 946.50,1099.20 C951.10,1099.20 952.70,1100.00 952.70,1102.20 V1158.20 Q952.70,1161.20 946.50,1161.20 Q940.30,1161.20 940.30,1158.20 Z" fill="none" stroke="#262626" stroke-width="1.25"/>
<path d="M940.90,1101.80 Q946.50,1103.40 952.10,1101.80" fill="none" stroke="#262626" stroke-width="0.6" opacity="0.7"/>
<path d="M943.50,1101.00 L949.50,1101.00 L949.50,1115.00 L946.50,1118.00 L943.50,1115.00 Z" fill="#c9c9c9" stroke="#4a4a4a" stroke-width="0.9"/>
<path d="M943.90,1102.20 H949.10 M943.90,1104.10 H949.10 M943.90,1106.00 H949.10 M943.90,1107.90 H949.10 M943.90,1109.80 H949.10 M943.90,1111.70 H949.10 M943.90,1113.60 H949.10" stroke="#7a7a7a" stroke-width="0.8" fill="none"/>
<path d="M1303.20,1062.60 C1303.20,1060.40 1304.80,1059.60 1309.40,1059.60 C1314.00,1059.60 1315.60,1060.40 1315.60,1062.60 V1120.30 Q1315.60,1123.30 1309.40,1123.30 Q1303.20,1123.30 1303.20,1120.30 Z" fill="none" stroke="#262626" stroke-width="1.25"/>
<path d="M1303.80,1062.20 Q1309.40,1063.80 1315.00,1062.20" fill="none" stroke="#262626" stroke-width="0.6" opacity="0.7"/>
<path d="M1306.40,1061.40 L1312.40,1061.40 L1312.40,1075.40 L1309.40,1078.40 L1306.40,1075.40 Z" fill="#c9c9c9" stroke="#4a4a4a" stroke-width="0.9"/>
<path d="M1306.80,1062.60 H1312.00 M1306.80,1064.50 H1312.00 M1306.80,1066.40 H1312.00 M1306.80,1068.30 H1312.00 M1306.80,1070.20 H1312.00 M1306.80,1072.10 H1312.00 M1306.80,1074.00 H1312.00" stroke="#7a7a7a" stroke-width="0.8" fill="none"/>
<path d="M1413.80,1102.30 C1413.80,1100.10 1415.40,1099.30 1420.00,1099.30 C1424.60,1099.30 1426.20,1100.10 1426.20,1102.30 V1158.20 Q1426.20,1161.20 1420.00,1161.20 Q1413.80,1161.20 1413.80,1158.20 Z" fill="none" stroke="#262626" stroke-width="1.25"/>
<path d="M1414.40,1101.90 Q1420.00,1103.50 1425.60,1101.90" fill="none" stroke="#262626" stroke-width="0.6" opacity="0.7"/>
<path d="M1417.00,1101.10 L1423.00,1101.10 L1423.00,1115.10 L1420.00,1118.10 L1417.00,1115.10 Z" fill="#c9c9c9" stroke="#4a4a4a" stroke-width="0.9"/>
<path d="M1417.40,1102.30 H1422.60 M1417.40,1104.20 H1422.60 M1417.40,1106.10 H1422.60 M1417.40,1108.00 H1422.60 M1417.40,1109.90 H1422.60 M1417.40,1111.80 H1422.60 M1417.40,1113.70 H1422.60" stroke="#7a7a7a" stroke-width="0.8" fill="none"/>
<path d="M1051.40,1143.50 C1051.40,1141.30 1053.00,1140.50 1057.60,1140.50 C1062.20,1140.50 1063.80,1141.30 1063.80,1143.50 V1200.00 Q1063.80,1203.00 1057.60,1203.00 Q1051.40,1203.00 1051.40,1200.00 Z" fill="none" stroke="#262626" stroke-width="1.25"/>
<path d="M1052.00,1143.10 Q1057.60,1144.70 1063.20,1143.10" fill="none" stroke="#262626" stroke-width="0.6" opacity="0.7"/>
<path d="M1054.60,1142.30 L1060.60,1142.30 L1060.60,1156.30 L1057.60,1159.30 L1054.60,1156.30 Z" fill="#c9c9c9" stroke="#4a4a4a" stroke-width="0.9"/>
<path d="M1055.00,1143.50 H1060.20 M1055.00,1145.40 H1060.20 M1055.00,1147.30 H1060.20 M1055.00,1149.20 H1060.20 M1055.00,1151.10 H1060.20 M1055.00,1153.00 H1060.20 M1055.00,1154.90 H1060.20" stroke="#7a7a7a" stroke-width="0.8" fill="none"/>
<path d="M704.38,866.57 Q702.50,865.90 704.49,865.68 L1084.22,823.98 Q1086.80,823.70 1089.24,824.59 L1217.02,871.21 Q1218.90,871.90 1216.91,872.12 L838.98,913.42 Q836.40,913.70 833.95,912.83 Z" fill="none" stroke="#0a0a0a" stroke-width="1.9" stroke-linejoin="round"/>
<path d="M814.28,979.98 Q812.40,979.30 814.39,979.08 L1194.72,937.48 Q1197.30,937.20 1199.74,938.09 L1327.62,984.52 Q1329.50,985.20 1327.51,985.42 L949.48,1027.71 Q946.90,1028.00 944.46,1027.11 Z" fill="none" stroke="#0a0a0a" stroke-width="1.9" stroke-linejoin="round"/>
<path d="M926.58,1092.68 Q924.70,1092.00 926.69,1091.78 L1306.02,1050.28 Q1308.60,1050.00 1311.05,1050.88 L1440.02,1097.42 Q1441.90,1098.10 1439.91,1098.32 L1062.18,1140.21 Q1059.60,1140.50 1057.15,1139.62 Z" fill="none" stroke="#0a0a0a" stroke-width="1.9" stroke-linejoin="round"/>
<ellipse cx="724.8" cy="869.3" rx="7.2" ry="2.2" transform="rotate(10 724.8 869.3)" fill="#fff" stroke="#0a0a0a" stroke-width="2.1"/>
<ellipse cx="1087.3" cy="828.7" rx="7.2" ry="2.2" transform="rotate(10 1087.3 828.7)" fill="#fff" stroke="#0a0a0a" stroke-width="2.1"/>
<ellipse cx="1197.3" cy="869.5" rx="7.2" ry="2.2" transform="rotate(10 1197.3 869.5)" fill="#fff" stroke="#0a0a0a" stroke-width="2.1"/>
<ellipse cx="834.8" cy="910.4" rx="7.2" ry="2.2" transform="rotate(10 834.8 910.4)" fill="#fff" stroke="#0a0a0a" stroke-width="2.1"/>
<ellipse cx="834.8" cy="982.4" rx="7.2" ry="2.2" transform="rotate(10 834.8 982.4)" fill="#fff" stroke="#0a0a0a" stroke-width="2.1"/>
<ellipse cx="1197.2" cy="942.3" rx="7.2" ry="2.2" transform="rotate(10 1197.2 942.3)" fill="#fff" stroke="#0a0a0a" stroke-width="2.1"/>
<ellipse cx="1307.9" cy="984.0" rx="7.2" ry="2.2" transform="rotate(10 1307.9 984.0)" fill="#fff" stroke="#0a0a0a" stroke-width="2.1"/>
<ellipse cx="945.1" cy="1023.6" rx="7.2" ry="2.2" transform="rotate(10 945.1 1023.6)" fill="#fff" stroke="#0a0a0a" stroke-width="2.1"/>
<ellipse cx="946.8" cy="1095.2" rx="7.2" ry="2.2" transform="rotate(10 946.8 1095.2)" fill="#fff" stroke="#0a0a0a" stroke-width="2.1"/>
<ellipse cx="1309.4" cy="1054.4" rx="7.2" ry="2.2" transform="rotate(10 1309.4 1054.4)" fill="#fff" stroke="#0a0a0a" stroke-width="2.1"/>
<ellipse cx="1419.8" cy="1096.4" rx="7.2" ry="2.2" transform="rotate(10 1419.8 1096.4)" fill="#fff" stroke="#0a0a0a" stroke-width="2.1"/>
<ellipse cx="1057.2" cy="1136.0" rx="7.2" ry="2.2" transform="rotate(10 1057.2 1136.0)" fill="#fff" stroke="#0a0a0a" stroke-width="2.1"/>
<rect x="719.85" y="842.40" width="7.70" height="17.20" rx="1.2" fill="#8b8b8b" stroke="#5a5a5a" stroke-width="0.7"/>
<path d="M720.35,843.90 H727.05 M720.35,845.90 H727.05 M720.35,847.90 H727.05 M720.35,849.90 H727.05 M720.35,851.90 H727.05 M720.35,853.90 H727.05 M720.35,855.90 H727.05 M720.35,857.90 H727.05" stroke="#767676" stroke-width="0.7" fill="none"/>
<rect x="720.15" y="842.40" width="7.10" height="3.4" fill="#c6c6c6"/>
<rect x="717.70" y="837.70" width="12.00" height="4.70" rx="2" fill="#ececec" stroke="#666" stroke-width="1.0"/>
<path d="M719.10,840.05 H728.30" stroke="#a8a8a8" stroke-width="0.8"/>
<rect x="1082.75" y="800.20" width="7.70" height="17.20" rx="1.2" fill="#8b8b8b" stroke="#5a5a5a" stroke-width="0.7"/>
<path d="M1083.25,801.70 H1089.95 M1083.25,803.70 H1089.95 M1083.25,805.70 H1089.95 M1083.25,807.70 H1089.95 M1083.25,809.70 H1089.95 M1083.25,811.70 H1089.95 M1083.25,813.70 H1089.95 M1083.25,815.70 H1089.95" stroke="#767676" stroke-width="0.7" fill="none"/>
<rect x="1083.05" y="800.20" width="7.10" height="3.4" fill="#c6c6c6"/>
<rect x="1080.60" y="795.50" width="12.00" height="4.70" rx="2" fill="#ececec" stroke="#666" stroke-width="1.0"/>
<path d="M1082.00,797.85 H1091.20" stroke="#a8a8a8" stroke-width="0.8"/>
<rect x="1191.65" y="842.90" width="7.70" height="17.20" rx="1.2" fill="#8b8b8b" stroke="#5a5a5a" stroke-width="0.7"/>
<path d="M1192.15,844.40 H1198.85 M1192.15,846.40 H1198.85 M1192.15,848.40 H1198.85 M1192.15,850.40 H1198.85 M1192.15,852.40 H1198.85 M1192.15,854.40 H1198.85 M1192.15,856.40 H1198.85 M1192.15,858.40 H1198.85" stroke="#767676" stroke-width="0.7" fill="none"/>
<rect x="1191.95" y="842.90" width="7.10" height="3.4" fill="#c6c6c6"/>
<rect x="1189.50" y="838.20" width="12.00" height="4.70" rx="2" fill="#ececec" stroke="#666" stroke-width="1.0"/>
<path d="M1190.90,840.55 H1200.10" stroke="#a8a8a8" stroke-width="0.8"/>
<rect x="831.05" y="884.90" width="7.70" height="17.20" rx="1.2" fill="#8b8b8b" stroke="#5a5a5a" stroke-width="0.7"/>
<path d="M831.55,886.40 H838.25 M831.55,888.40 H838.25 M831.55,890.40 H838.25 M831.55,892.40 H838.25 M831.55,894.40 H838.25 M831.55,896.40 H838.25 M831.55,898.40 H838.25 M831.55,900.40 H838.25" stroke="#767676" stroke-width="0.7" fill="none"/>
<rect x="831.35" y="884.90" width="7.10" height="3.4" fill="#c6c6c6"/>
<rect x="828.90" y="880.20" width="12.00" height="4.70" rx="2" fill="#ececec" stroke="#666" stroke-width="1.0"/>
<path d="M830.30,882.55 H839.50" stroke="#a8a8a8" stroke-width="0.8"/>
<circle cx="742.3" cy="848.4" r="12" fill="#000"/>
<text x="742.3" y="856.4" text-anchor="middle" font-family="Liberation Sans" font-size="23.3" fill="#fff" stroke="#fff" stroke-width="0.6">L</text>
<circle cx="1107.2" cy="805.9" r="12" fill="#000"/>
<text x="1107.2" y="813.9" text-anchor="middle" font-family="Liberation Sans" font-size="23.3" fill="#fff" stroke="#fff" stroke-width="0.6">K</text>
<circle cx="1212.9" cy="850.3" r="12" fill="#000"/>
<text x="1212.9" y="858.3" text-anchor="middle" font-family="Liberation Sans" font-size="23.3" fill="#fff" stroke="#fff" stroke-width="0.6">J</text>
<circle cx="852.5" cy="890.4" r="12" fill="#000"/>
<text x="852.5" y="898.4" text-anchor="middle" font-family="Liberation Sans" font-size="23.3" fill="#fff" stroke="#fff" stroke-width="0.6">I</text>
</svg>
</body></html>
